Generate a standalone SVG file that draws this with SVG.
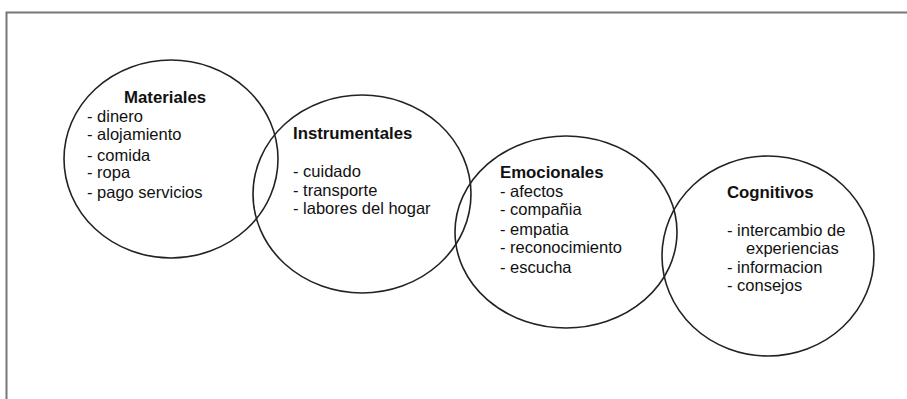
<svg xmlns="http://www.w3.org/2000/svg" width="907" height="399" viewBox="0 0 907 399">
<style>
.c{fill:none;stroke:#222;stroke-width:1.6}
.t{font-family:"Liberation Sans",Arial,sans-serif;font-size:16.5px;fill:#111}
.b{font-weight:bold;font-size:16.8px}
</style>
<rect width="907" height="399" fill="#fff"/>
<path d="M6.5 399 V12.5 H907" fill="none" stroke="#777" stroke-width="2"/>
<g id="materiales">
<ellipse class="c" cx="171" cy="159" rx="107" ry="99"/>
<text class="t b" x="124" y="103">Materiales</text>
<text class="t" x="87" y="122">- dinero</text>
<text class="t" x="87" y="140">- alojamiento</text>
<text class="t" x="87" y="161">- comida</text>
<text class="t" x="87" y="178">- ropa</text>
<text class="t" x="87" y="198">- pago servicios</text>
</g>
<g id="instrumentales">
<ellipse class="c" cx="362" cy="194" rx="109" ry="99"/>
<text class="t b" x="293" y="139">Instrumentales</text>
<text class="t" x="293" y="177">- cuidado</text>
<text class="t" x="293" y="196">- transporte</text>
<text class="t" x="293" y="214">- labores del hogar</text>
</g>
<g id="emocionales">
<ellipse class="c" cx="566" cy="232" rx="111" ry="96"/>
<text class="t b" x="500" y="178">Emocionales</text>
<text class="t" x="500" y="197">- afectos</text>
<text class="t" x="500" y="215">- compañia</text>
<text class="t" x="500" y="235">- empatia</text>
<text class="t" x="500" y="253">- reconocimiento</text>
<text class="t" x="500" y="273">- escucha</text>
</g>
<g id="cognitivos">
<ellipse class="c" cx="768" cy="256" rx="106" ry="100"/>
<text class="t b" x="727" y="198">Cognitivos</text>
<text class="t" x="727" y="236">- intercambio de</text>
<text class="t" x="746" y="254">experiencias</text>
<text class="t" x="727" y="273">- informacion</text>
<text class="t" x="727" y="291">- consejos</text>
</g>
<g id="connectors"></g>
</svg>
